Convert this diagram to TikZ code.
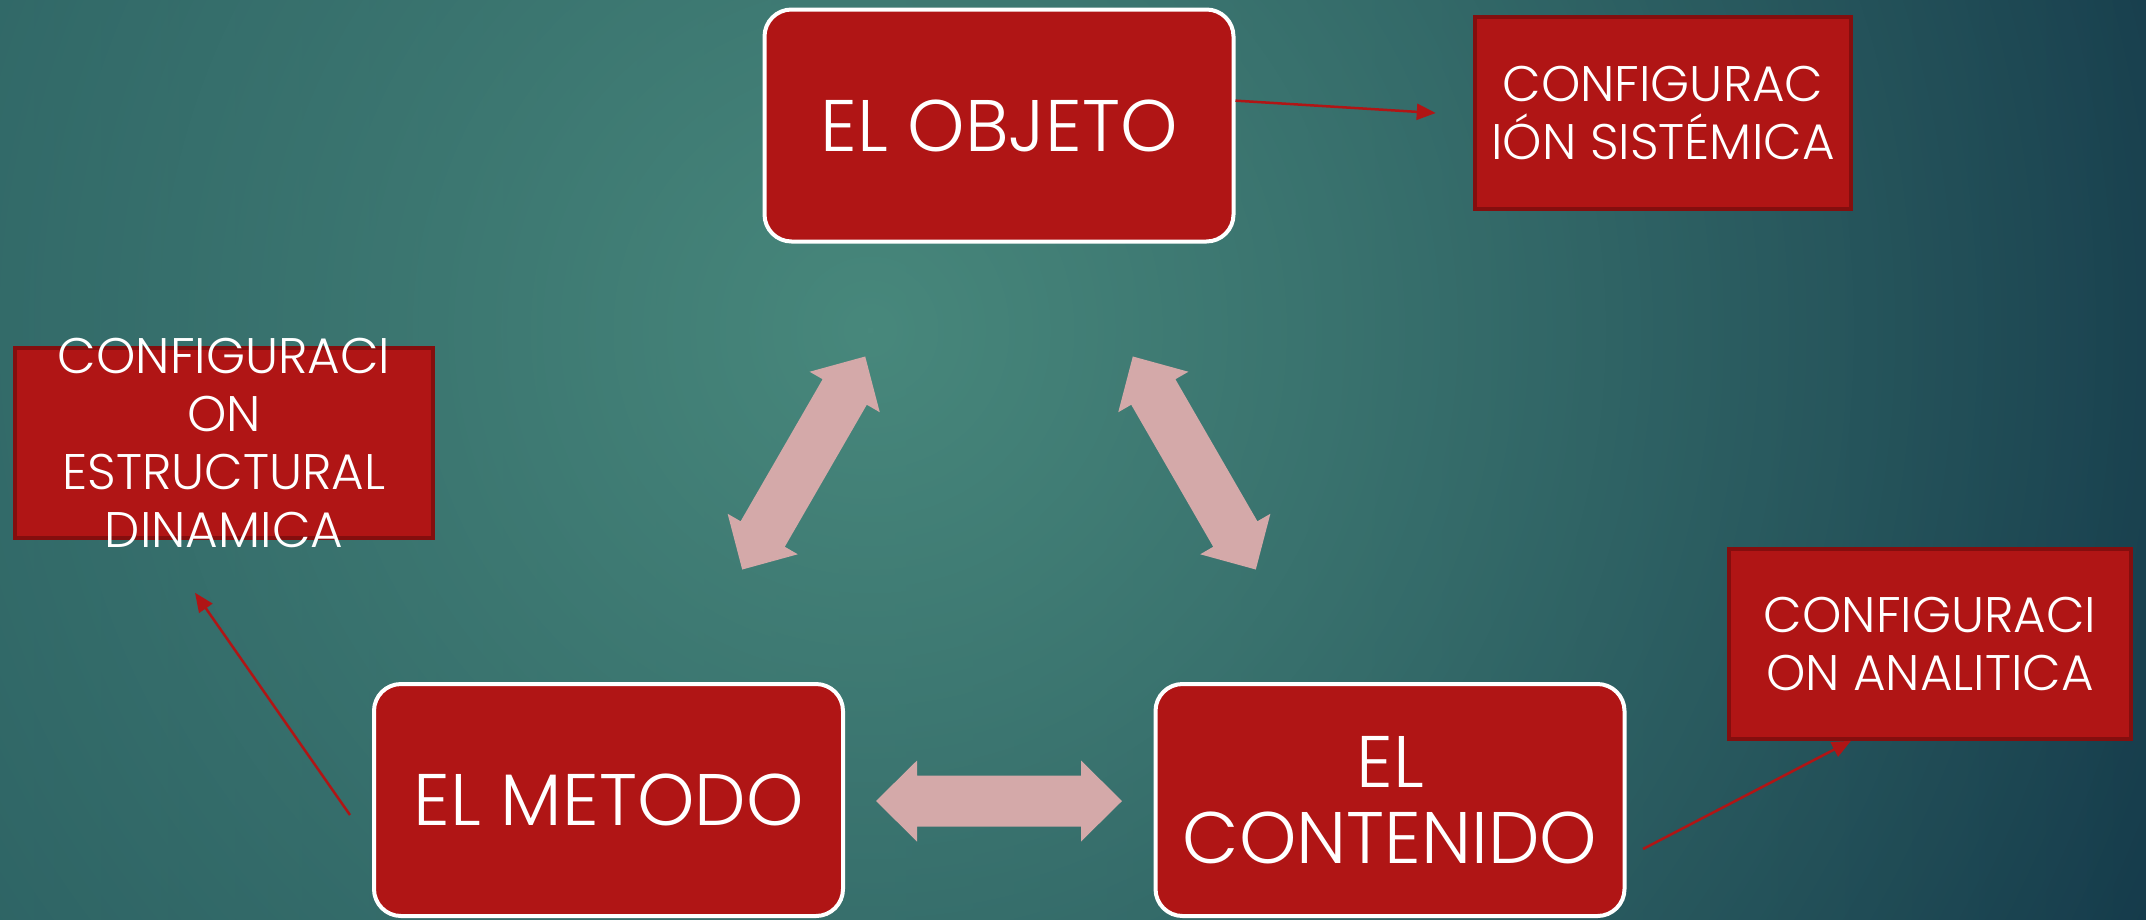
\documentclass[tikz,border=0pt]{standalone}
\usepackage{fontspec}
\setmainfont{Poppins}[UprightFont=* Light]
\usetikzlibrary{
    arrows.meta,
    positioning,
    fadings
}
\definecolor{box red}{RGB}{176,21,21}
\definecolor{box rim}{RGB}{132,14,14}
\definecolor{duo pink}{RGB}{212,169,169}
\definecolor{bg left}{RGB}{36,86,92}
\definecolor{bg mid}{RGB}{32,78,87}
\definecolor{bg right}{RGB}{18,54,72}
\definecolor{bg light}{RGB}{72,136,124}
\tikzfading[name=light spot,inner color=transparent!0,outer color=transparent!100]
\tikzset{
    % Boxes
    main box/.style={rectangle,rounded corners=27pt,fill=box red,draw=white,line width=4pt,
        minimum width=469pt,minimum height=232pt,inner sep=0pt,text=white,align=center,
        font=\fontsize{73}{75.6}\selectfont},
    side box/.style={rectangle,fill=box red,draw=box rim,line width=3.5pt,inner sep=0pt},
    side text/.style={text=white,align=center,font=\fontsize{50}{58}\selectfont},
    %
    % Arrows
    thin arr/.style={-{Triangle[length=19pt,width=16pt]},box red,line width=2.5pt},
    duoarrow/.pic={
        \fill[duo pink] (-123,0) -- (-82,40.5) -- (-82,25.5) -- (82,25.5) -- (82,40.5)
            -- (123,0) -- (82,-40.5) -- (82,-25.5) -- (-82,-25.5) -- (-82,-40.5) -- cycle;
    }
}

\begin{document}
\begin{tikzpicture}[x=1pt,y=-1pt]
    \useasboundingbox (0,0) rectangle (2146,919);
    % background
    \shade[left color=bg left,middle color=bg mid,right color=bg right] (0,0) rectangle (2146,919);
    \begin{scope}
        \clip (0,0) rectangle (2146,919);
        \fill[bg light,path fading=light spot] (870,330) circle[radius=1500];
    \end{scope}

    \node[main box] (objeto) at (999,125.5) {EL OBJETO};
    \node[main box] (metodo) at (608.5,800) {EL METODO};
    \node[main box] (contenido) at (1390,800) {EL\\CONTENIDO};

    \node[side box,side text,minimum width=376pt,minimum height=192pt] (sistemica) at (1663,113) {CONFIGURAC\\IÓN SISTÉMICA};
    \node[side box,minimum width=418pt,minimum height=190pt] (estructural) at (224,443) {};
    \node[side text] (estructural text) at (estructural) {CONFIGURACI\\ON\\ESTRUCTURAL\\DINAMICA};
    \node[side box,side text,minimum width=402pt,minimum height=190pt] (analitica) at (1930,644) {CONFIGURACI\\ON ANALITICA};

    \pic[rotate=60] at (803.7,463) {duoarrow};
    \pic[rotate=-60] at (1194.3,463) {duoarrow};
    \pic at (999,801) {duoarrow};

    \coordinate (sistemica tip) at ([shift={(-37.5,0)}]sistemica.west);
    \coordinate (metodo tail) at ([shift={(-22,15)}]metodo.west);
    \coordinate (estructural tip) at ([shift={(-29,53)}]estructural.south);
    \coordinate (contenido tail) at ([shift={(16.5,49)}]contenido.east);
    \draw[thin arr] (objeto.6) -- (sistemica tip);
    \draw[thin arr] (metodo tail) -- (estructural tip);
    \draw[thin arr] (contenido tail) -- ([xshift=-79pt]analitica.south);
\end{tikzpicture}
\end{document}
